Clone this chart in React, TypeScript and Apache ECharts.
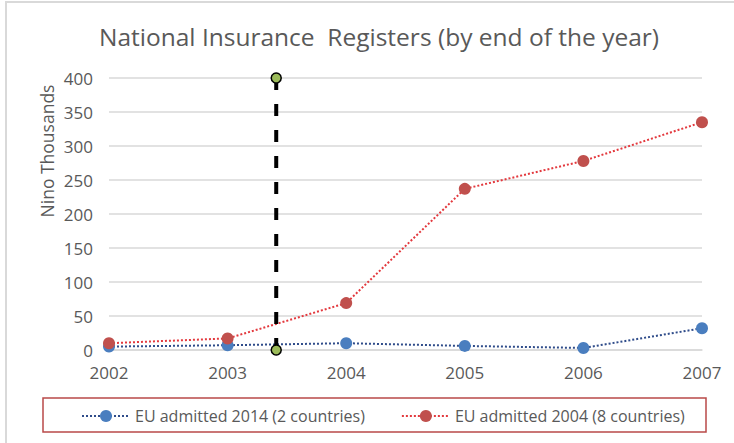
import React, { useEffect, useRef } from "react";
import * as echarts from "echarts";

const years = [2002, 2003, 2004, 2005, 2006, 2007];
const eu2014 = [5, 7, 10, 6, 3, 32];
const eu2004 = [10, 17, 69, 237, 278, 335];
const markerX = 2003.41;
const markerY = [400, 0];
const seriesNames = ["EU admitted 2014 (2 countries)", "EU admitted 2004 (8 countries)"];
const titleText = "National Insurance  Registers (by end of the year)";
const yName = "Nino Thousands";

const FONT = "'Open Sans', sans-serif";
const GREY = "#595959";

export default function App() {
  const ref = useRef<HTMLDivElement>(null);
  useEffect(() => {
    if (!ref.current) return;
    const chart = echarts.init(ref.current, undefined, { renderer: "svg" });
    chart.setOption({
      animation: false,
      backgroundColor: "#ffffff",
      textStyle: { fontFamily: FONT },
      title: {
        text: titleText,
        left: 374,
        top: 19,
        textAlign: "center",
        textStyle: { fontFamily: FONT, fontSize: 24.5, fontWeight: "normal", color: GREY },
      },
      grid: { left: 109, right: 32, top: 78, bottom: 93 },
      xAxis: {
        type: "value",
        min: 2002,
        max: 2007,
        interval: 1,
        axisLine: { show: true, lineStyle: { color: "#d9d9d9", width: 1.5 } },
        axisTick: { show: false },
        splitLine: { show: false },
        axisLabel: {
          formatter: (v: number) => String(v),
          color: GREY,
          fontSize: 17,
          fontFamily: FONT,
          margin: 14,
        },
      },
      yAxis: {
        type: "value",
        min: 0,
        max: 400,
        interval: 50,
        axisLine: { show: false },
        axisTick: { show: false },
        splitLine: { lineStyle: { color: "#d9d9d9", width: 1.5 } },
        axisLabel: { color: GREY, fontSize: 17, fontFamily: FONT, margin: 16 },
      },
      legend: {
        data: seriesNames,
        left: 76,
        top: 403,
        itemWidth: 48,
        itemHeight: 15,
        itemGap: 36,
        textStyle: { color: GREY, fontSize: 16, fontFamily: FONT },
      },
      graphic: [
        {
          type: "rect",
          shape: { x: 6, y: 2, width: 800, height: 500 },
          style: { fill: "none", stroke: "#d9d9d9", lineWidth: 2 },
          silent: true,
        },
        {
          type: "rect",
          shape: { x: 43, y: 398, width: 663, height: 34 },
          style: { fill: "none", stroke: "#b94a48", lineWidth: 1.5 },
          silent: true,
        },
        {
          type: "text",
          x: 47,
          y: 151,
          rotation: Math.PI / 2,
          style: {
            text: yName,
            fill: GREY,
            font: "17.5px 'Open Sans', sans-serif",
            textAlign: "center",
            textVerticalAlign: "middle",
          },
          silent: true,
        },
      ],
      series: [
        {
          name: seriesNames[0],
          type: "line",
          data: years.map((y, i) => [y, eu2014[i]]),
          symbol: "circle",
          symbolSize: 12,
          itemStyle: { color: "#4a7ebf" },
          lineStyle: { color: "#2f4c8a", width: 2, type: "dotted" },
          z: 3,
        },
        {
          name: seriesNames[1],
          type: "line",
          data: years.map((y, i) => [y, eu2004[i]]),
          symbol: "circle",
          symbolSize: 12,
          itemStyle: { color: "#c0504d" },
          lineStyle: { color: "#e3393e", width: 2, type: "dotted" },
          z: 4,
        },
        {
          name: "marker",
          type: "line",
          data: markerY.map((v) => [markerX, v]),
          symbol: "circle",
          symbolSize: 10,
          itemStyle: { color: "#9bbb59", borderColor: "#000000", borderWidth: 1.5 },
          lineStyle: { color: "#000000", width: 4, type: [12, 14] },
          z: 5,
        },
      ],
    });
    return () => chart.dispose();
  }, []);
  return (
    <div
      ref={ref}
      style={{ position: "fixed", left: 0, top: 0, width: 734, height: 443, background: "#fff" }}
    />
  );
}
